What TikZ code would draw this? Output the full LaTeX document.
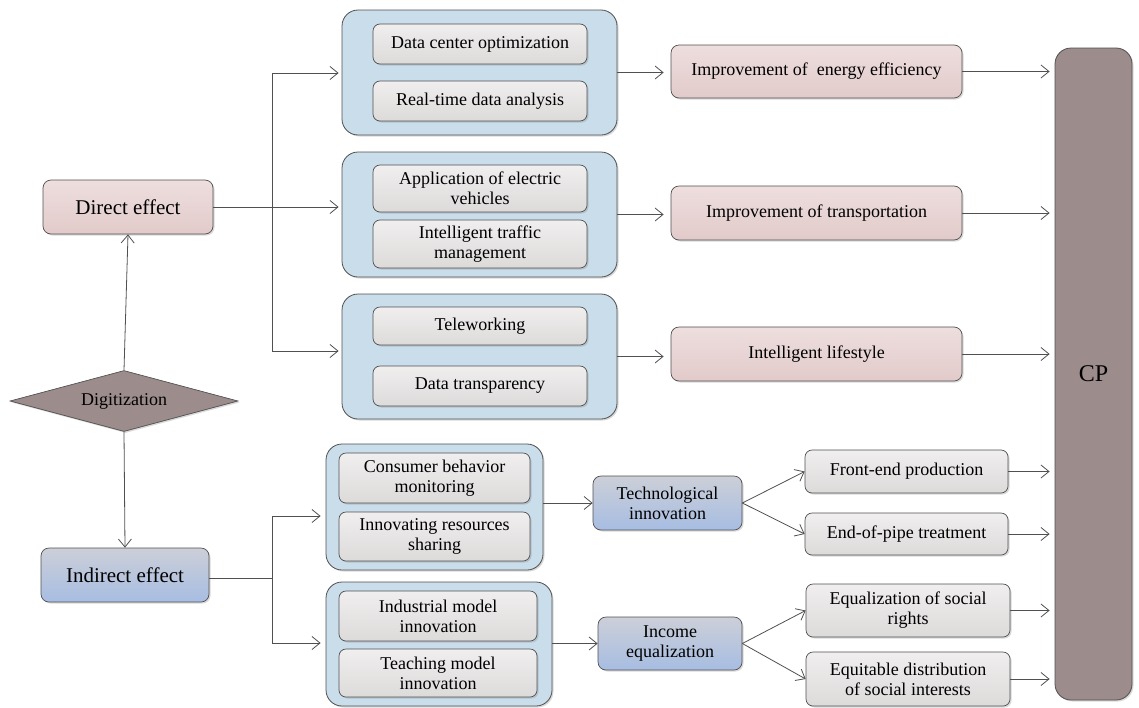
\documentclass[tikz,border=0pt]{standalone}
\usepackage{fontspec}
\setmainfont{Liberation Serif}
\usetikzlibrary{shapes.geometric,arrows.meta,shadows}
\definecolor{linec}{HTML}{505050}
\definecolor{grpblue}{HTML}{C9DDEB}
\definecolor{gtop}{HTML}{F0EEEE}
\definecolor{gbot}{HTML}{DDDADA}
\definecolor{ptop}{HTML}{EEDEDE}
\definecolor{pbot}{HTML}{E2CACA}
\definecolor{btop}{HTML}{CCCFD8}
\definecolor{bbot}{HTML}{A7BDE2}
\definecolor{mauve}{HTML}{9C8C8C}
\tikzset{
  shd/.style={drop shadow={shadow xshift=1.5pt,shadow yshift=-1.5pt,opacity=0.3}},
  conn/.style={draw=linec,line width=0.8pt},
  arr/.style={conn,-{Straight Barb[length=8pt,width=13pt]}},
  grp/.style={draw=linec,line width=0.8pt,fill=grpblue,rounded corners=16pt,shd,inner sep=0pt},
  inbox/.style={draw=linec,line width=0.7pt,rounded corners=7pt,top color=gtop,bottom color=gbot,shd,
     font=\fontsize{18}{20}\selectfont,align=center,inner sep=0pt},
  pinkbox/.style={draw=linec,line width=0.7pt,rounded corners=8pt,top color=ptop,bottom color=pbot,shd,
     font=\fontsize{18}{20}\selectfont,align=center,inner sep=0pt},
  bluebox/.style={draw=linec,line width=0.7pt,rounded corners=8pt,top color=btop,bottom color=bbot,shd,
     font=\fontsize{18}{20}\selectfont,align=center,inner sep=0pt},
}
\begin{document}
\begin{tikzpicture}[x=1pt,y=-1pt]
\useasboundingbox (0,0) rectangle (1139,707);
% left column
\node[pinkbox,minimum width=170pt,minimum height=54pt,font=\fontsize{21}{24}\selectfont] (direct) at (128,207) {Direct effect};
\node[draw=linec,line width=0.7pt,fill=mauve,shape=diamond,aspect=3.74,minimum width=228pt,minimum height=61pt,inner sep=0pt,shd,font=\fontsize{18}{20}\selectfont] (digit) at (124,401) {Digitization};
\node[bluebox,minimum width=168pt,minimum height=54pt,font=\fontsize{21}{24}\selectfont] (indirect) at (125,575) {Indirect effect};
% direct groups
\node[grp,minimum width=275pt,minimum height=125pt] (g1) at (479.5,72.5) {};
\node[inbox,minimum width=214pt,minimum height=40pt] (a1) at (480,44) {Data center optimization};
\node[inbox,minimum width=214pt,minimum height=40pt] (a2) at (480,101) {Real-time data analysis};
\node[grp,minimum width=275pt,minimum height=125pt] (g2) at (479.5,214.5) {};
\node[inbox,minimum width=214pt,minimum height=47pt] (b1) at (480,188.5) {Application of electric\\vehicles};
\node[inbox,minimum width=214pt,minimum height=48pt] (b2) at (480,244) {Intelligent traffic\\management};
\node[grp,minimum width=275pt,minimum height=125pt] (g3) at (479.5,356.5) {};
\node[inbox,minimum width=214pt,minimum height=38pt] (c1) at (480,326) {Teleworking};
\node[inbox,minimum width=214pt,minimum height=40pt] (c2) at (480,386) {Data transparency};
% results
\node[pinkbox,minimum width=291pt,minimum height=53pt] (r1) at (816.5,71.5) {Improvement of \ energy efficiency};
\node[pinkbox,minimum width=291pt,minimum height=54pt] (r2) at (816.5,213) {Improvement of transportation};
\node[pinkbox,minimum width=291pt,minimum height=54pt] (r3) at (816.5,354) {Intelligent lifestyle};
% CP
\node[draw=linec,line width=0.8pt,fill=mauve,rounded corners=16pt,shd,minimum width=77pt,minimum height=652pt,inner sep=0pt,font=\fontsize{24}{28}\selectfont] (cp) at (1093.5,374) {CP};
% indirect groups
\node[grp,minimum width=217pt,minimum height=126pt] (g4) at (434.5,507) {};
\node[inbox,minimum width=191pt,minimum height=50pt] (d1) at (434.5,478) {Consumer behavior\\monitoring};
\node[inbox,minimum width=191pt,minimum height=49pt] (d2) at (434.5,536.5) {Innovating resources\\sharing};
\node[grp,minimum width=226pt,minimum height=124pt] (g5) at (439,644) {};
\node[inbox,minimum width=198pt,minimum height=50pt] (e1) at (438,616) {Industrial model\\innovation};
\node[inbox,minimum width=198pt,minimum height=48pt] (e2) at (438,673) {Teaching model\\innovation};
\node[bluebox,minimum width=149pt,minimum height=54pt] (tech) at (667.5,503) {Technological\\innovation};
\node[bluebox,minimum width=144pt,minimum height=53pt] (inc) at (670,643.5) {Income\\equalization};
\node[inbox,minimum width=203pt,minimum height=43pt] (f1) at (906.5,471.5) {Front-end production};
\node[inbox,minimum width=203pt,minimum height=42pt] (f2) at (906.5,534) {End-of-pipe treatment};
\node[inbox,minimum width=204pt,minimum height=53pt] (h1) at (908,610.5) {Equalization of social\\rights};
\node[inbox,minimum width=204pt,minimum height=54pt] (h2) at (908,679) {Equitable distribution\\of social interests};
% connectors
\draw[arr] (digit.north) -- (direct.south);
\draw[arr] (digit.south) -- (indirect.north);
\coordinate (jt) at (272,73);
\coordinate (jb) at (272,351);
\draw[conn] (jt) -- (jb);
\draw[arr,shorten >=3pt] (jt) -- (jt -| g1.west);
\draw[arr,shorten >=3pt] (direct.east) -- (direct.east -| g2.west);
\draw[arr,shorten >=3pt] (jb) -- (jb -| g3.west);
\draw[arr,shorten >=7pt] (g1.east) -- (g1.east -| r1.west);
\draw[arr,shorten >=7pt] (g2.east) -- (g2.east -| r2.west);
\draw[arr,shorten >=7pt] (g3.east) -- (g3.east -| r3.west);
\draw[arr,shorten >=5pt] (r1.east) -- (r1.east -| cp.west);
\draw[arr,shorten >=5pt] (r2.east) -- (r2.east -| cp.west);
\draw[arr,shorten >=5pt] (r3.east) -- (r3.east -| cp.west);
\coordinate (it) at (272,516);
\coordinate (ib) at (272,643);
\coordinate (im) at (272,578);
\draw[conn] (it) -- (ib);
\draw[conn] (indirect.east |- im) -- (im);
\draw[arr,shorten >=5pt] (it) -- (it -| g4.west);
\draw[arr,shorten >=5pt] (ib) -- (ib -| g5.west);
\draw[arr] (g4.east |- tech.west) -- (tech.west);
\draw[arr] (g5.east |- inc.west) -- (inc.west);
\draw[arr] (tech.east) -- (f1.west);
\draw[arr] (tech.east) -- (f2.west);
\draw[arr] (inc.east) -- (h1.west);
\draw[arr] (inc.east) -- (h2.west);
\draw[arr,shorten >=5pt] (f1.east) -- (f1.east -| cp.west);
\draw[arr,shorten >=5pt] (f2.east) -- (f2.east -| cp.west);
\draw[arr,shorten >=5pt] (h1.east) -- (h1.east -| cp.west);
\draw[arr,shorten >=5pt] (h2.east) -- (h2.east -| cp.west);
\end{tikzpicture}
\end{document}
